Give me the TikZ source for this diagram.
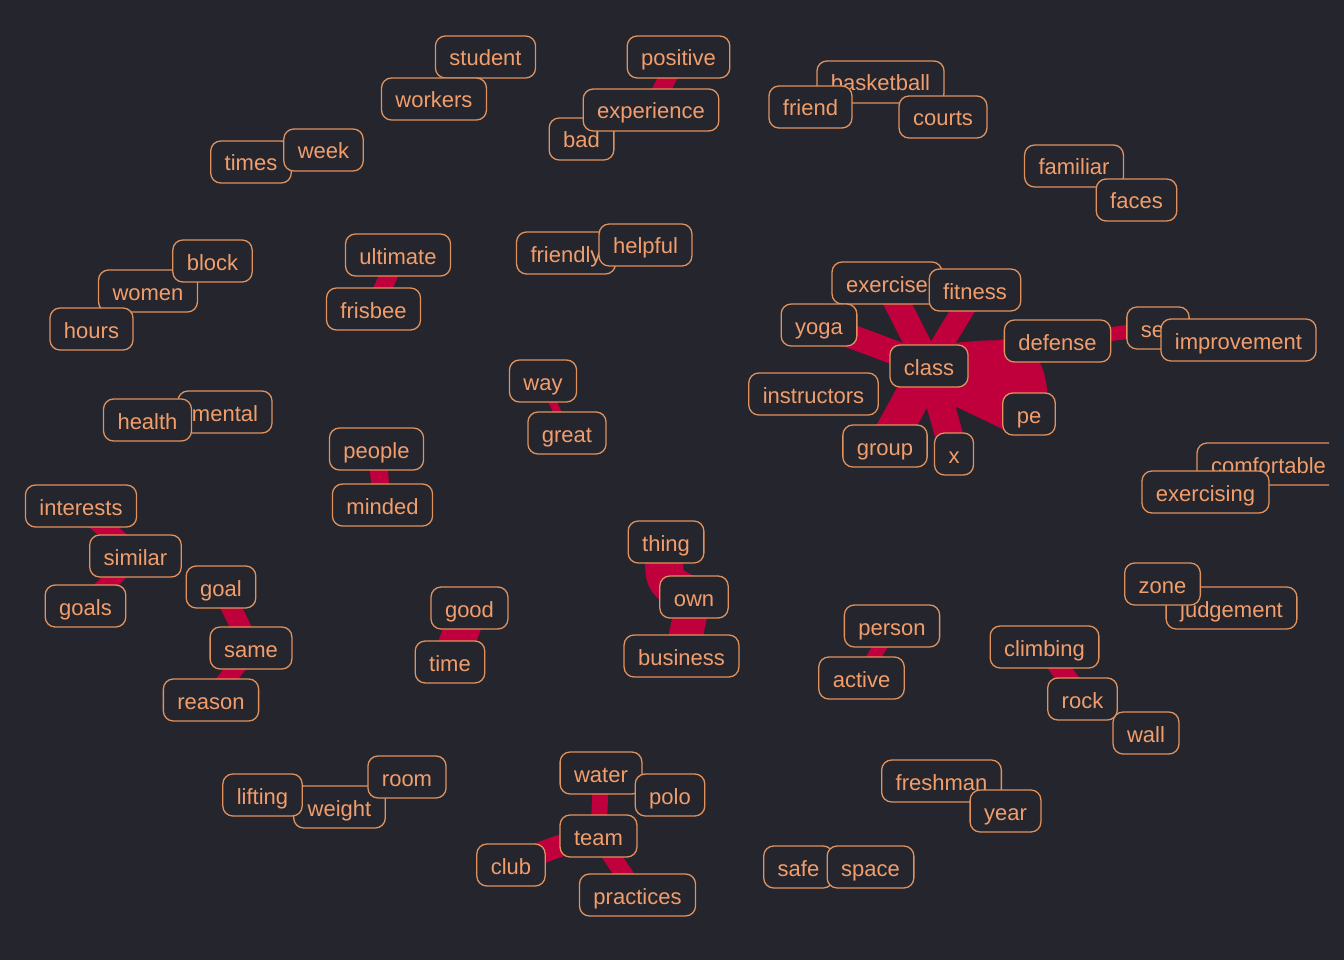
\documentclass[tikz,border=0pt]{standalone}
\usepackage{fontspec}
\setmainfont{Liberation Sans}
\definecolor{bgc}{HTML}{24252D}
\definecolor{bordc}{HTML}{E0925E}
\definecolor{txtc}{HTML}{F29E6C}
\definecolor{edgec}{HTML}{BF003C}
\pgfdeclarelayer{edges}
\pgfdeclarelayer{back}
\pgfsetlayers{back,edges,main}
\tikzset{
 wbox/.style={draw=bordc, fill=bgc, text=txtc, rounded corners=10pt, line width=1.3pt, font=\fontsize{22}{26}\selectfont, inner xsep=14pt, inner ysep=0pt, minimum height=42pt, text height=20pt, text depth=2pt},
 lnk/.style={draw=edgec, line width=#1},
}
\begin{document}
\begin{tikzpicture}[x=1pt,y=-1pt]
\useasboundingbox (0,0) rectangle (1344,960);
\begin{pgfonlayer}{back}
\fill[bgc] (0,0) rectangle (1344,960);
\end{pgfonlayer}
\begin{scope}
\clip (0,0) rectangle (1329,960);
% top
\node[wbox] (student) at (485.5,57) {student};
\node[wbox] (workers) at (434,99) {workers};
\node[wbox] (positive) at (678.5,57) {positive};
\node[wbox] (bad) at (581.5,139) {bad};
\node[wbox] (experience) at (651,110) {experience};
\node[wbox] (basketball) at (880.5,82) {basketball};
\node[wbox] (friend) at (810.5,107) {friend};
\node[wbox] (courts) at (943,117) {courts};
\node[wbox] (familiar) at (1074,166) {familiar};
\node[wbox] (faces) at (1136.5,200) {faces};
\node[wbox] (times) at (251,162) {times};
\node[wbox] (week) at (323.5,150) {week};
% left upper
\node[wbox] (women) at (148,291) {women};
\node[wbox] (block) at (212.5,261) {block};
\node[wbox] (hours) at (91.5,329) {hours};
\node[wbox] (ultimate) at (398,255) {ultimate};
\node[wbox] (frisbee) at (373.5,309) {frisbee};
\node[wbox] (friendly) at (566,253) {friendly};
\node[wbox] (helpful) at (645.5,245) {helpful};
% class cluster
\node[wbox] (exercise) at (887,283) {exercise};
\node[wbox] (fitness) at (975,290) {fitness};
\node[wbox] (yoga) at (819,325) {yoga};
\node[wbox] (defense) at (1057.5,341) {defense};
\node[wbox] (self) at (1158,328) {self};
\node[wbox] (improvement) at (1238.5,340) {improvement};
\node[wbox] (class) at (929,366) {class};
\node[wbox] (instructors) at (813.5,394) {instructors};
\node[wbox] (pe) at (1029,414) {pe};
\node[wbox] (group) at (885,446) {group};
\node[wbox] (x) at (954,454) {x};
% middle
\node[wbox] (way) at (543,381) {way};
\node[wbox] (great) at (567,433) {great};
\node[wbox] (mental) at (225,412) {mental};
\node[wbox] (health) at (147.5,420) {health};
\node[wbox] (people) at (376.5,449) {people};
\node[wbox] (minded) at (382.5,505) {minded};
\node[wbox] (comfortable) at (1268.5,464) {comfortable};
\node[wbox] (exercising) at (1205.5,492) {exercising};
\node[wbox] (interests) at (81,506) {interests};
\node[wbox] (similar) at (135.5,556) {similar};
\node[wbox] (goals) at (85.5,606) {goals};
\node[wbox] (goal) at (221,587) {goal};
\node[wbox] (same) at (251,648) {same};
\node[wbox] (reason) at (211,700) {reason};
\node[wbox] (thing) at (666,542) {thing};
\node[wbox] (own) at (694,597) {own};
\node[wbox] (business) at (681.5,656) {business};
\node[wbox] (good) at (469.5,608) {good};
\node[wbox] (time) at (450,662) {time};
\node[wbox] (person) at (892,626) {person};
\node[wbox] (active) at (861.5,678) {active};
\node[wbox] (judgement) at (1231.5,608) {judgement};
\node[wbox] (zone) at (1162.5,584) {zone};
\node[wbox] (climbing) at (1044.5,647) {climbing};
\node[wbox] (wall) at (1146,733) {wall};
\node[wbox] (rock) at (1082.5,699) {rock};
% bottom
\node[wbox] (weight) at (339.5,807) {weight};
\node[wbox] (lifting) at (262.5,795) {lifting};
\node[wbox] (room) at (407,777) {room};
\node[wbox] (water) at (601,773) {water};
\node[wbox] (polo) at (670,795) {polo};
\node[wbox] (team) at (598.5,836) {team};
\node[wbox] (club) at (511,865) {club};
\node[wbox] (practices) at (637.5,895) {practices};
\node[wbox] (freshman) at (941.5,781) {freshman};
\node[wbox] (year) at (1005.5,811) {year};
\node[wbox] (safe) at (798.5,867) {safe};
\node[wbox] (space) at (870.5,867) {space};
\end{scope}
\begin{pgfonlayer}{edges}
\draw[lnk=18] (positive.center) -- (experience.center);
\draw[lnk=18] (ultimate.center) -- (frisbee.center);
\draw[lnk=8] (way.center) -- (great.center);
\draw[lnk=18] (people.center) -- (minded.center);
\draw[lnk=20] (interests.center) -- (similar.center);
\draw[lnk=18] (similar.center) -- (goals.center);
\draw[lnk=20] (goal.center) -- (same.center);
\draw[lnk=18] (same.center) -- (reason.center);
\draw[lnk=38] (thing.center) .. controls (662,582) .. (own.center);
\draw[lnk=34] (own.center) -- (business.center);
\draw[lnk=36] (good.center) -- (time.center);
\draw[lnk=14] (person.center) -- (active.center);
\draw[lnk=20] (climbing.center) -- (rock.center);
\draw[lnk=16] (water.center) -- (team.center);
\draw[lnk=22] (team.center) .. controls (560,845) .. (club.center);
\draw[lnk=18] (team.center) -- (practices.center);
\draw[lnk=14, line cap=round] (self.center) -- (defense.center);
% class cluster
\draw[lnk=26] (class.center) -- (exercise.center);
\draw[lnk=22] (class.center) -- (fitness.center);
\draw[lnk=24] (class.center) .. controls (875,345) .. (yoga.center);
\draw[lnk=24] (class.center) -- (defense.center);
\draw[lnk=40] (class.center) .. controls (1025,355) .. (pe.center);
\draw[lnk=50] (class.center) -- (pe.center);
\draw[lnk=36] (class.center) .. controls (900,420) .. (group.center);
\draw[lnk=28] (class.center) .. controls (945,420) .. (x.center);
\end{pgfonlayer}
\end{tikzpicture}
\end{document}
